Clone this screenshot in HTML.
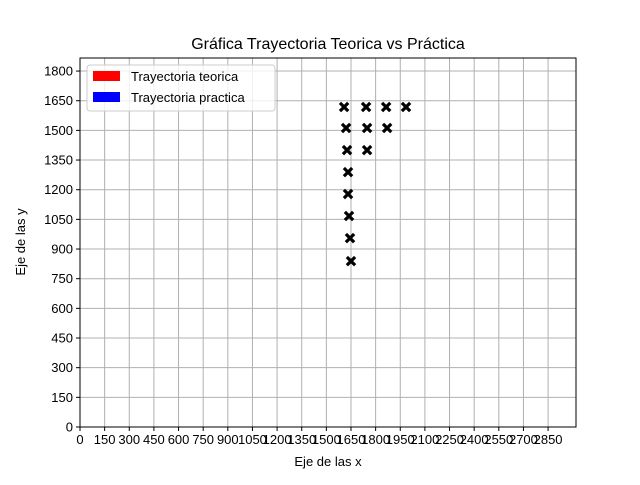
<!DOCTYPE html>
<html><head><meta charset="utf-8"><style>
body{margin:0;background:#fff;font-family:"Liberation Sans","DejaVu Sans",sans-serif;}
</style></head><body>
<svg width="640" height="480" xmlns="http://www.w3.org/2000/svg">
<rect width="640" height="480" fill="#fff"/>
<g id="grid"></g>
<g id="marks"></g>
<rect x="80" y="58" width="496" height="369" fill="none" stroke="#000" stroke-width="1"/>
<g id="ticks" font-size="13" fill="#000"></g>
<text x="328" y="49" text-anchor="middle" font-size="16">Gráfica Trayectoria Teorica vs Práctica</text>
<text x="328" y="466" text-anchor="middle" font-size="13">Eje de las x</text>
<text transform="translate(25,242) rotate(-90)" text-anchor="middle" font-size="13">Eje de las y</text>
<g>
<rect x="87" y="65" width="188" height="46" rx="3" fill="#fff" fill-opacity="0.8" stroke="#ccc"/>
<rect x="93" y="71" width="27" height="10" fill="#ff0000"/>
<text x="131" y="81" font-size="13">Trayectoria teorica</text>
<rect x="93" y="92" width="27" height="10" fill="#0000ff"/>
<text x="131" y="102" font-size="13">Trayectoria practica</text>
</g>
</svg>
<script>
const xTicks=[0,150,300,450,600,750,900,1050,1200,1350,1500,1650,1800,1950,2100,2250,2400,2550,2700,2850];
const yTicks=[0,150,300,450,600,750,900,1050,1200,1350,1500,1650,1800];
const ptsX=[1608,1742,1864,1985,1620,1748,1870,1626,1748,1632,1632,1638,1644,1650];
const ptsY=[1618,1618,1618,1618,1512,1512,1512,1400,1400,1289,1178,1067,955,839];
const X0=80,X1=576,Y0=427,Y1=58,XMAX=3020,YMAX=1866;
function sx(v){return X0+v/XMAX*(X1-X0);}
function sy(v){return Y0-v/YMAX*(Y0-Y1);}
const NS="http://www.w3.org/2000/svg";
const grid=document.getElementById('grid'),ticks=document.getElementById('ticks'),marks=document.getElementById('marks');
function mk(t,a,p){const e=document.createElementNS(NS,t);for(const k in a)e.setAttribute(k,a[k]);p.appendChild(e);return e;}
xTicks.forEach(v=>{const x=sx(v);
const g=mk('line',{x1:x,x2:x,y1:Y1,y2:Y0,stroke:'#b0b0b0','stroke-width':1},grid);


mk('line',{x1:x,x2:x,y1:Y0,y2:Y0+4,stroke:'#000'},ticks);
const t=mk('text',{x:x,y:Y0+17,'text-anchor':'middle'},ticks);t.textContent=v;

});
yTicks.forEach(v=>{const y=sy(v);
const g=mk('line',{x1:X0,x2:X1,y1:y,y2:y,stroke:'#b0b0b0','stroke-width':1},grid);


mk('line',{x1:X0-4,x2:X0,y1:y,y2:y,stroke:'#000'},ticks);
const t=mk('text',{x:X0-7,y:y+4.5,'text-anchor':'end'},ticks);t.textContent=v;

});
ptsX.forEach((v,i)=>{const x=sx(v),y=sy(ptsY[i]);
const p=mk('path',{d:`M${x-3},${y-3}L${x+3},${y+3}M${x+3},${y-3}L${x-3},${y+3}`,stroke:'#000','stroke-width':3.2,'stroke-linecap':'square'},marks);

});
</script>
</body></html>
